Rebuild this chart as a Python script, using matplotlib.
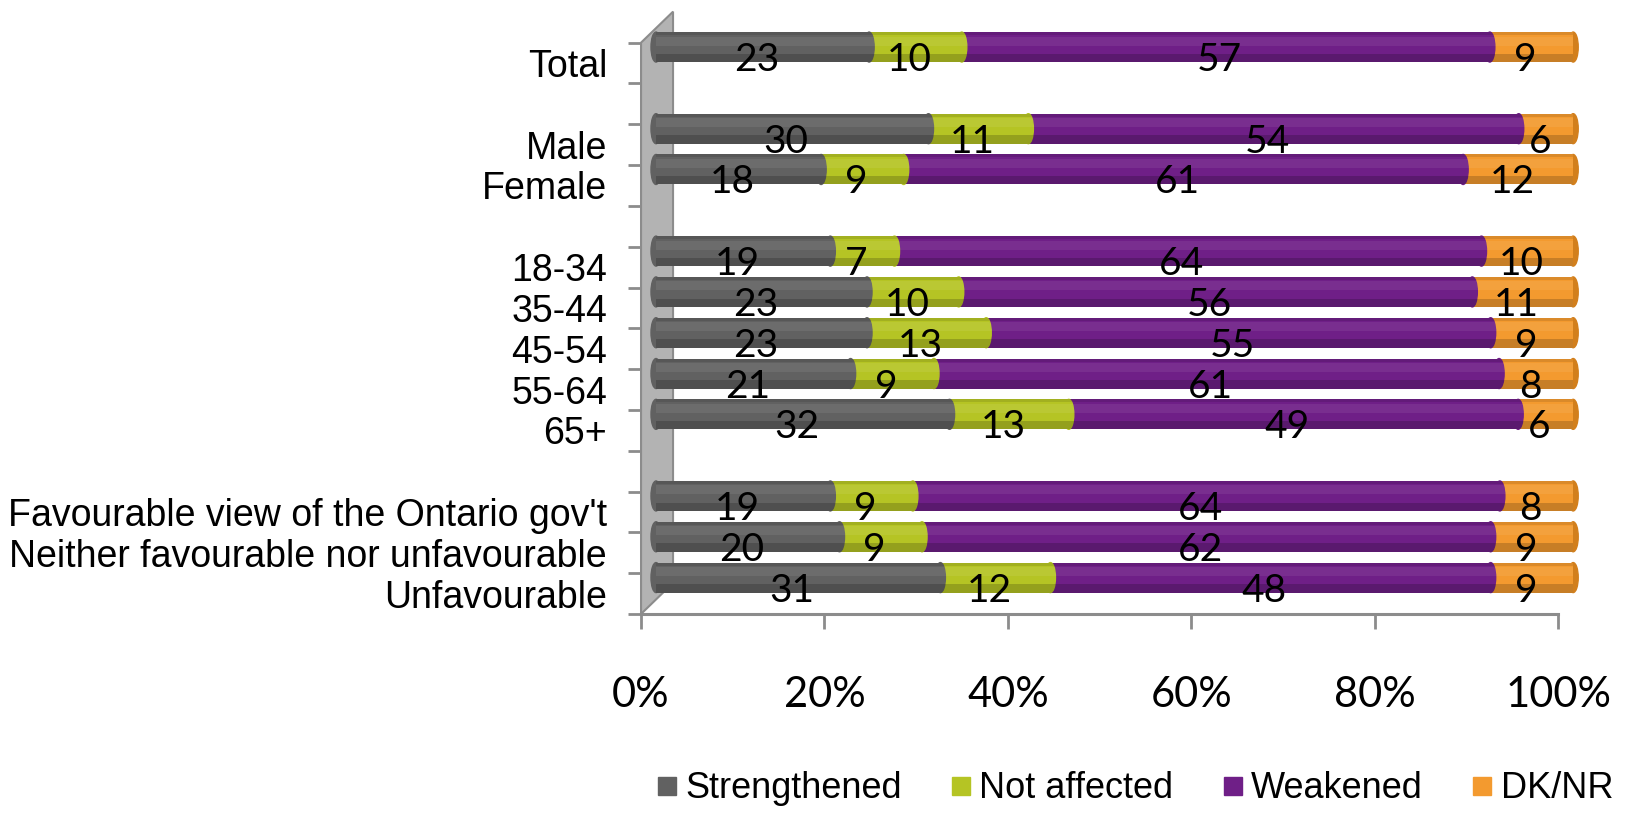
import matplotlib.pyplot as plt
import matplotlib.transforms as mtransforms
from matplotlib.patches import Ellipse, Polygon
from matplotlib.lines import Line2D
import numpy as np

# Datos (filas vacias = separadores entre grupos)
categorias = ['Total', '', 'Male', 'Female', '', '18-34', '35-44', '45-54', '55-64', '65+', '',
              "Favourable view of the Ontario gov't", 'Neither favourable nor unfavourable', 'Unfavourable']
strengthened = [23, None, 30, 18, None, 19, 23, 23, 21, 32, None, 19, 20, 31]
not_affected = [10, None, 11, 9, None, 7, 10, 13, 9, 13, None, 9, 9, 12]
weakened = [57, None, 54, 61, None, 64, 56, 55, 61, 49, None, 64, 62, 48]
dk_nr = [9, None, 6, 12, None, 10, 11, 9, 8, 6, None, 8, 9, 9]
series = [strengthened, not_affected, weakened, dk_nr]
nombres_series = ['Strengthened', 'Not affected', 'Weakened', 'DK/NR']
x_ticks = [0, 20, 40, 60, 80, 100]
x_labels = ['0%', '20%', '40%', '60%', '80%', '100%']

colores = ['#616161', '#b5c424', '#6f1f87', '#f39a2f']
color_tapa = '#d27f1c'
gris_eje = '#8c8c8c'

# Efecto 3D (en pixeles)
BAR_DX, BAR_DY = 15, 16
WALL_DX, WALL_DY = 32, 31
BAR_H = 0.735
CAP_W = 1.1

fig = plt.figure(figsize=(16.27, 8.13), dpi=100)
ax = fig.add_axes([0.394, 0.2448, 0.5637, 0.7429])
n = len(categorias)
ax.set_xlim(0, 100)
ax.set_ylim(n - 0.5, -1.3)

def desplazamiento(dx, dy):
    return ax.transData + mtransforms.ScaledTranslation(dx / 100, dy / 100, fig.dpi_scale_trans)

tr_barra = desplazamiento(BAR_DX, BAR_DY)
tr_texto = desplazamiento(9, -8)

# Pared lateral gris
px_x = ax.transData.transform((1, 0))[0] - ax.transData.transform((0, 0))[0]
px_y = ax.transData.transform((0, 0))[1] - ax.transData.transform((0, 1))[1]
wdx = WALL_DX / px_x
wdy = WALL_DY / px_y
abajo = n - 0.5
arriba = -0.5
pared = Polygon([(0, abajo), (0, arriba), (wdx, arriba - wdy), (wdx, abajo - wdy)],
                closed=True, facecolor='#b3b3b3', edgecolor=gris_eje, lw=1.5, zorder=0.5, clip_on=False)
ax.add_patch(pared)

# Barras cilindricas apiladas
for i in range(n):
    if strengthened[i] is None:
        continue
    valores = [s[i] for s in series]
    total = sum(valores)
    izq = 0
    ax.add_patch(Ellipse((0, i), CAP_W, BAR_H, color=colores[0], transform=tr_barra,
                         zorder=1, clip_on=False))
    for j, v in enumerate(valores):
        w = v / total * 100
        ax.barh(i, w, left=izq, height=BAR_H, color=colores[j], transform=tr_barra,
                zorder=2, clip_on=False)
        if j == len(valores) - 1:
            ax.add_patch(Ellipse((izq + w, i), CAP_W, BAR_H, color=color_tapa, transform=tr_barra,
                                 zorder=1.5, clip_on=False))
        else:
            ax.add_patch(Ellipse((izq + w, i), CAP_W, BAR_H, color=colores[j], transform=tr_barra,
                                 zorder=3, clip_on=False))
        ax.text(izq + w / 2, i, str(v), transform=tr_texto, ha='center', va='baseline',
                fontsize=28, family='Lato', color='black', zorder=6)
        izq += w
    # sombreado del cilindro
    ax.barh(i + BAR_H * 0.36, 100, height=BAR_H * 0.28, color='black', alpha=0.18,
            transform=tr_barra, zorder=4, lw=0, clip_on=False)
    ax.barh(i - BAR_H * 0.45, 100, height=BAR_H * 0.1, color='black', alpha=0.10,
            transform=tr_barra, zorder=4, lw=0, clip_on=False)
    ax.barh(i - BAR_H * 0.2, 100, height=BAR_H * 0.3, color='white', alpha=0.07,
            transform=tr_barra, zorder=4, lw=0, clip_on=False)

ax.set_xlim(0, 100)
ax.set_ylim(n - 0.5, -1.3)

# Ejes
for lado in ['top', 'right', 'left']:
    ax.spines[lado].set_visible(False)
ax.spines['bottom'].set_color(gris_eje)
ax.spines['bottom'].set_linewidth(2.2)

ax.set_yticks(range(n))
ax.set_yticklabels(categorias, fontsize=27, family='Liberation Sans')
ax.tick_params(axis='y', which='major', length=0, pad=24.5)
ax.set_yticks(np.arange(-0.5, n), minor=True)
ax.tick_params(axis='y', which='minor', length=9.4, width=2, color=gris_eje)

ax.set_xticks(x_ticks)
ax.set_xticklabels(x_labels, fontsize=30, family='Lato')
ax.tick_params(axis='x', which='major', length=10.8, width=2, color=gris_eje, direction='out', pad=34)

# Leyenda
manejadores = [Line2D([], [], marker='s', ls='', markersize=13, markerfacecolor=c, markeredgecolor=c)
               for c in colores]
fig.legend(manejadores, nombres_series, loc='lower center', bbox_to_anchor=(0.698, -0.014), ncol=4,
           frameon=False, prop={'family': 'Liberation Sans', 'size': 26}, handlelength=0.5,
           handletextpad=0.25, columnspacing=1.4, borderpad=0)

fig.savefig('out.png', dpi=100)
